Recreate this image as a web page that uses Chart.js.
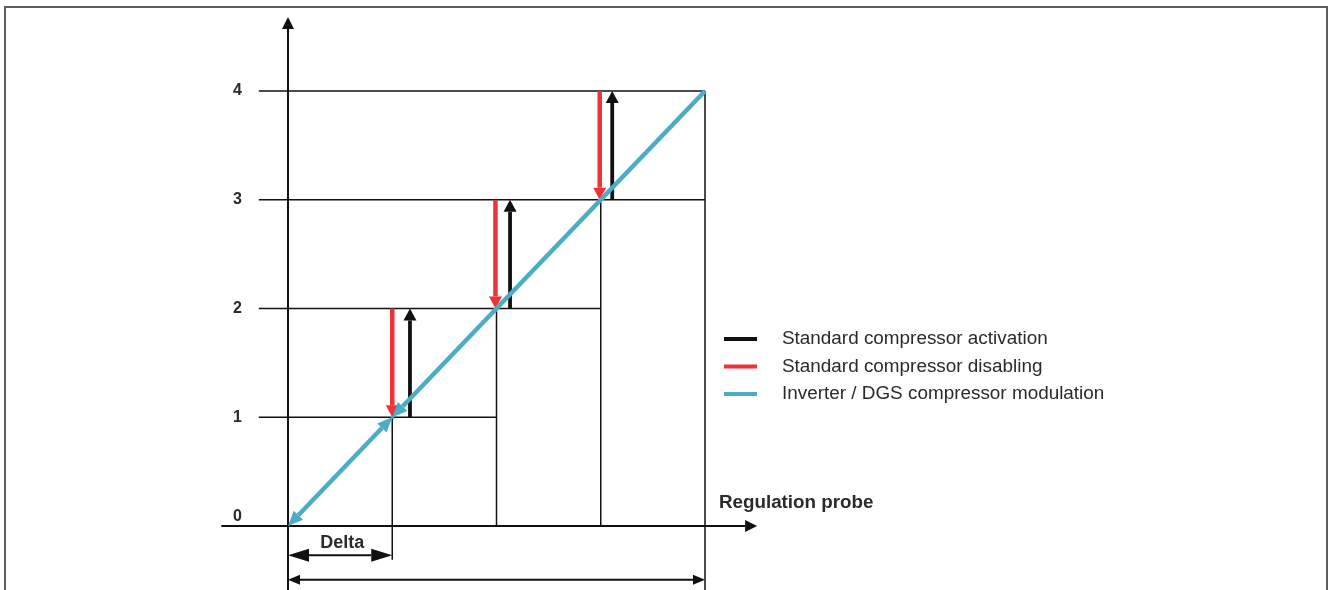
<!DOCTYPE html>
<html>
<head>
<meta charset="utf-8">
<script src="https://cdn.jsdelivr.net/npm/chart.js@4.4.0/dist/chart.umd.min.js"></script>
<style>
  body { margin: 0; background: #fff; }
</style>
</head>
<body>
<canvas id="chart" width="1333" height="590"></canvas>
<script>
// number of compressors on
const levels = [0, 1, 2, 3, 4];
// regulation probe value where each standard compressor switches
const disableX = [1.0, 1.99, 2.99];
const activateX = [1.17, 2.13, 3.11];
// inverter / DGS modulation line
const modulationX = [0, 1, 4];
const modulationY = [0, 1, 4];

const legendLabels = [
    'Standard compressor activation',
    'Standard compressor disabling',
    'Inverter / DGS compressor modulation'
];
const axisTitle = 'Regulation probe';
const deltaTitle = 'Delta';

const BLACK = '#111111', RED = '#ee3237', CYAN = '#4bacc6', TEXT = '#2a2a2a';
const FONT = '"Liberation Sans", Arial, sans-serif';
const GAP = {x: NaN, y: null};

// grid: horizontal step lines + vertical threshold lines
const gridData = [];
levels.slice(1).forEach(l => {
    gridData.push({x: -0.28, y: l}, {x: Math.min(l + 1, 4), y: l}, GAP);
});
const vBottom = [-0.31, 0, 0, -0.6];
levels.slice(1).forEach((l, i) => {
    gridData.push({x: l, y: l}, {x: l, y: vBottom[i]}, GAP);
});

const redData = [], blackData = [], redHeads = [], blackHeads = [];
disableX.forEach((x, k) => {
    redData.push({x: x, y: levels[k + 2]}, {x: x, y: levels[k + 1]}, GAP);
    redHeads.push([3 * k, 3 * k + 1]);
});
activateX.forEach((x, k) => {
    blackData.push({x: x, y: levels[k + 1]}, {x: x, y: levels[k + 2]}, GAP);
    blackHeads.push([3 * k, 3 * k + 1]);
});

const cyanData = [
    {x: modulationX[0], y: modulationY[0]}, {x: modulationX[1], y: modulationY[1]}, GAP,
    {x: modulationX[2], y: modulationY[2]}, {x: modulationX[1], y: modulationY[1]}
];

function headShapes(ds, meta) {
    return (ds.heads || []).map(([a, b]) => {
        const p = meta.data[a], q = meta.data[b];
        const dx = q.x - p.x, dy = q.y - p.y, len = Math.hypot(dx, dy);
        const ux = dx / len, uy = dy / len;
        return {tx: q.x, ty: q.y, ux: ux, uy: uy, nx: -uy, ny: ux, L: ds.headLength, W: ds.headWidth / 2};
    });
}

// arrow heads: hide the line under each head, then fill a triangle
const arrowPlugin = {
    id: 'arrows',
    beforeDatasetDraw(chart, args) {
        const ds = chart.data.datasets[args.index];
        if (!ds.heads) return;
        const ctx = chart.ctx;
        ctx.save();
        ctx.beginPath();
        ctx.rect(0, 0, chart.width, chart.height);
        headShapes(ds, args.meta).forEach(h => {
            const bx = h.tx - h.ux * h.L, by = h.ty - h.uy * h.L;
            const ex = h.tx + h.ux, ey = h.ty + h.uy, w = h.W + 1;
            ctx.moveTo(bx + h.nx * w, by + h.ny * w);
            ctx.lineTo(ex + h.nx * w, ey + h.ny * w);
            ctx.lineTo(ex - h.nx * w, ey - h.ny * w);
            ctx.lineTo(bx - h.nx * w, by - h.ny * w);
            ctx.closePath();
        });
        ctx.clip('evenodd');
    },
    afterDatasetDraw(chart, args) {
        const ds = chart.data.datasets[args.index];
        if (!ds.heads) return;
        const ctx = chart.ctx;
        ctx.restore();
        ctx.save();
        ctx.fillStyle = ds.borderColor;
        headShapes(ds, args.meta).forEach(h => {
            const bx = h.tx - h.ux * h.L, by = h.ty - h.uy * h.L;
            ctx.beginPath();
            ctx.moveTo(h.tx, h.ty);
            ctx.lineTo(bx + h.nx * h.W, by + h.ny * h.W);
            ctx.lineTo(bx - h.nx * h.W, by - h.ny * h.W);
            ctx.closePath();
            ctx.fill();
        });
        ctx.restore();
    }
};

// texts, legend and frame
const labelsPlugin = {
    id: 'labels',
    afterDraw(chart) {
        const ctx = chart.ctx, xs = chart.scales.x, ys = chart.scales.y;
        ctx.save();
        ctx.fillStyle = TEXT;
        ctx.textAlign = 'center';
        ctx.textBaseline = 'middle';
        ctx.font = 'bold 16px ' + FONT;
        levels.forEach(l => {
            const y = ys.getPixelForValue(l) - (l === 0 ? 9 : 0);
            ctx.fillText(String(l), xs.getPixelForValue(-0.485), y);
        });
        ctx.font = 'bold 18px ' + FONT;
        ctx.fillText(deltaTitle, xs.getPixelForValue(0.52), ys.getPixelForValue(-0.155));
        ctx.textAlign = 'left';
        ctx.font = 'bold 18.8px ' + FONT;
        ctx.fillText(axisTitle, 719, 503);

        // legend
        chart.data.datasets.forEach(ds => {
            const i = legendLabels.indexOf(ds.label);
            if (i < 0) return;
            const y = 339 + i * 27.5;
            ctx.strokeStyle = ds.borderColor;
            ctx.lineWidth = 4;
            ctx.beginPath();
            ctx.moveTo(724, y);
            ctx.lineTo(757, y);
            ctx.stroke();
            ctx.fillStyle = TEXT;
            ctx.font = '18.9px ' + FONT;
            ctx.fillText(ds.label, 782, y);
        });

        // frame
        ctx.strokeStyle = '#5e5e5e';
        ctx.lineWidth = 2;
        ctx.strokeRect(5, 7, 1322, 700);
        ctx.restore();
    }
};

const line = (extra) => Object.assign({
    showLine: true, pointRadius: 0, pointHoverRadius: 0, clip: false,
    borderCapStyle: 'butt', fill: false
}, extra);

new Chart(document.getElementById('chart'), {
    type: 'scatter',
    data: {
        datasets: [
            line({label: 'grid', data: gridData, borderColor: BLACK, borderWidth: 1.5, order: 5}),
            line({label: 'axes', order: 4, borderColor: BLACK, borderWidth: 2,
                data: [{x: 0, y: -0.6}, {x: 0, y: 4.68}, GAP, {x: -0.64, y: 0}, {x: 4.5, y: 0}],
                heads: [[0, 1], [3, 4]], headLength: 12, headWidth: 12}),
            line({label: 'delta', order: 4, borderColor: BLACK, borderWidth: 2,
                data: [{x: 0, y: -0.27}, {x: 1, y: -0.27}],
                heads: [[1, 0], [0, 1]], headLength: 21, headWidth: 13}),
            line({label: 'span', order: 4, borderColor: BLACK, borderWidth: 2,
                data: [{x: 0, y: -0.495}, {x: 4, y: -0.495}],
                heads: [[1, 0], [0, 1]], headLength: 12, headWidth: 10}),
            line({label: legendLabels[1], order: 3, borderColor: RED, borderWidth: 4.5,
                data: redData, heads: redHeads, headLength: 12, headWidth: 13}),
            line({label: legendLabels[0], order: 2, borderColor: BLACK, borderWidth: 3.8,
                data: blackData, heads: blackHeads, headLength: 12, headWidth: 13}),
            line({label: legendLabels[2], order: 1, borderColor: CYAN, borderWidth: 4.5,
                data: cyanData, heads: [[1, 0], [0, 1], [3, 4]], headLength: 15, headWidth: 13})
        ]
    },
    options: {
        responsive: false,
        animation: false,
        devicePixelRatio: 1,
        layout: {padding: {left: 288, right: 628, top: 91, bottom: 64}},
        scales: {
            x: {type: 'linear', min: 0, max: 4, display: false},
            y: {type: 'linear', min: 0, max: 4, display: false}
        },
        plugins: {legend: {display: false}, tooltip: {enabled: false}}
    },
    plugins: [arrowPlugin, labelsPlugin]
});
</script>
</body>
</html>
